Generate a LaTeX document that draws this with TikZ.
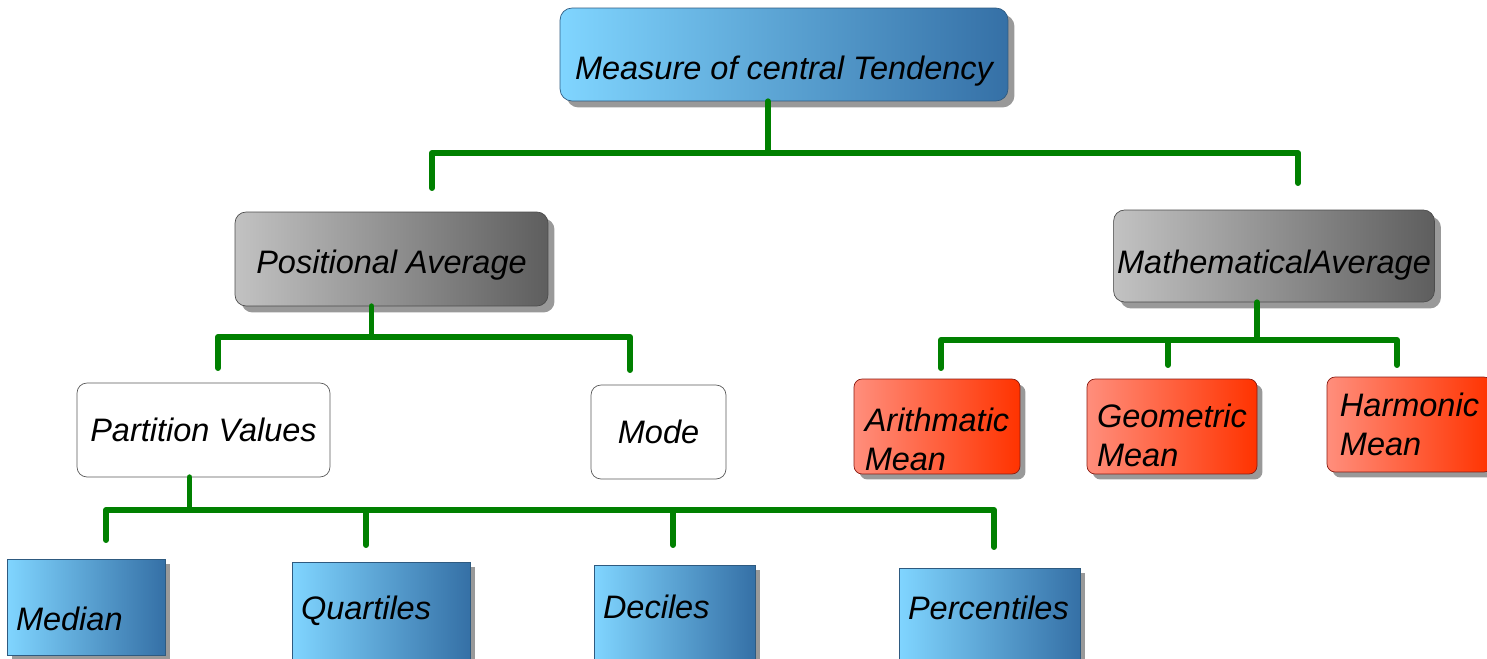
\documentclass[tikz,border=0pt]{standalone}
\usepackage{fontspec}
\setmainfont{Liberation Sans}
\usetikzlibrary{
  calc,
  shadows
}
\definecolor{bluelight}{HTML}{80D5FF}
\definecolor{bluedark}{HTML}{3570A6}
\definecolor{blueedge}{HTML}{2E5A80}
\definecolor{graylight}{HTML}{C2C2C2}
\definecolor{graydark}{HTML}{5E5E5E}
\definecolor{redlight}{HTML}{FF8E7C}
\definecolor{reddark}{HTML}{FF3300}
\definecolor{rededge}{HTML}{8B1A10}
\definecolor{branchgreen}{HTML}{008000}
\tikzset{
  every node/.style={font=\itshape\fontsize{18.5}{22.5}\selectfont, inner xsep=2pt},
  boxshadow/.style={drop shadow={shadow xshift=#1, shadow yshift=-#1, opacity=1, fill=black!40}},
  rootbox/.style={draw=blueedge, left color=bluelight, right color=bluedark, rounded corners=0.24cm, boxshadow=0.13cm},
  avgbox/.style={draw=black!70, left color=graylight, right color=graydark, rounded corners=0.22cm, boxshadow=0.13cm},
  plainbox/.style={draw=black!65, fill=white, rounded corners=0.2cm},
  meanbox/.style={draw=rededge, left color=redlight, right color=reddark, rounded corners=0.16cm, boxshadow=0.11cm, align=left, inner ysep=0pt},
  leafbox/.style={draw=blueedge, left color=bluelight, right color=bluedark, boxshadow=0.1cm, align=left, inner xsep=0.18cm},
  branch/.style={draw=branchgreen, line width=3.4pt, line cap=round, line join=round}
}

\begin{document}
\begin{tikzpicture}[x=0.02cm, y=-0.02cm]
\useasboundingbox (0,0) rectangle (1487,659);

\node[rootbox, minimum width=8.96cm, minimum height=1.86cm, text height=32.8pt] (mct) at (784,54.5) {Measure of central Tendency};

\node[avgbox, minimum width=6.26cm, minimum height=1.88cm, text height=20.3pt] (pa) at (391.5,259) {Positional Average};
\node[avgbox, minimum width=6.36cm, minimum height=1.84cm, text height=23.7pt] (ma) at (1274,256) {MathematicalAverage};

\node[plainbox, minimum width=5.06cm, minimum height=1.88cm] (pv) at (203.5,430) {Partition Values};
\node[plainbox, minimum width=2.7cm, minimum height=1.88cm] (mode) at (658.5,432) {Mode};

\node[meanbox, minimum width=3.32cm, minimum height=1.9cm, text height=50.8pt] (am) at (937,426.5) {Arithmatic\\Mean};
\node[meanbox, minimum width=3.4cm, minimum height=1.9cm, text height=46.2pt] (gm) at (1172,426.5) {Geometric\\Mean};
\node[meanbox, minimum width=3.3cm, minimum height=1.9cm] (hm) at (1409.5,424.5) {Harmonic\\Mean};

\node[leafbox, text width=2.8cm, minimum height=1.92cm, text height=27.2pt] (med) at (86,607) {Median};
\node[leafbox, text width=3.2cm, minimum height=1.94cm] (qrt) at (381,610.5) {Quartiles};
\node[leafbox, text width=2.86cm, minimum height=1.92cm, text depth=6.8pt] (dec) at (674.5,613) {Deciles};
\node[leafbox, text width=3.26cm, minimum height=1.92cm, text depth=9.1pt] (pct) at (989.5,616) {Percentiles};

\coordinate (mct-out) at ($(mct.south)+(-16,0)$);
\coordinate (bar-mct) at (0,153);
\coordinate (pa-in) at (432,188);
\coordinate (ma-in) at (1298,183);
\draw[branch] (mct-out) -- (mct-out |- bar-mct);
\draw[branch] (pa-in) -- (pa-in |- bar-mct) -- (ma-in |- bar-mct) -- (ma-in);

\coordinate (pa-out) at ($(pa.south)+(-20,0)$);
\coordinate (bar-pa) at (0,337);
\coordinate (pv-in) at (218,368);
\coordinate (mode-in) at (630,370);
\draw[branch] (pa-out) -- (pa-out |- bar-pa);
\draw[branch] (pv-in) -- (pv-in |- bar-pa) -- (mode-in |- bar-pa) -- (mode-in);

\coordinate (ma-out) at ($(ma.south)+(-17,0)$);
\coordinate (bar-ma) at (0,340);
\coordinate (am-in) at (941,368);
\coordinate (gm-in) at (1168,365);
\coordinate (hm-in) at (1397,365);
\draw[branch] (ma-out) -- (ma-out |- bar-ma);
\draw[branch] (am-in) -- (am-in |- bar-ma) -- (hm-in |- bar-ma) -- (hm-in);
\draw[branch] (gm-in |- bar-ma) -- (gm-in);

\coordinate (pv-out) at ($(pv.south)+(-14,0)$);
\coordinate (bar-pv) at (0,510);
\coordinate (med-in) at (106,540);
\coordinate (qrt-in) at (366,545);
\coordinate (dec-in) at (673,545);
\coordinate (pct-in) at (994,547);
\draw[branch] (pv-out) -- (pv-out |- bar-pv);
\draw[branch] (med-in) -- (med-in |- bar-pv) -- (pct-in |- bar-pv) -- (pct-in);
\draw[branch] (qrt-in |- bar-pv) -- (qrt-in);
\draw[branch] (dec-in |- bar-pv) -- (dec-in);
\end{tikzpicture}
\end{document}
